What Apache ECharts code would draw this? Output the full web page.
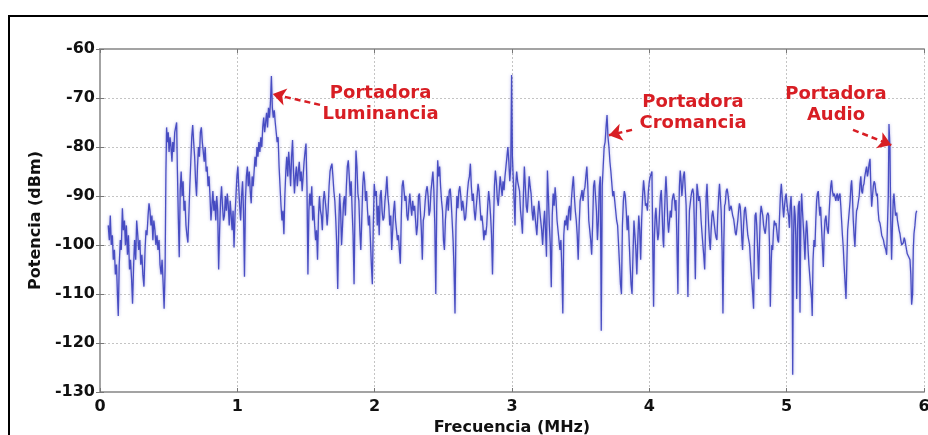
<!DOCTYPE html>
<html><head><meta charset="utf-8">
<script src="https://cdn.jsdelivr.net/npm/echarts@6/dist/echarts.min.js"></script>
<style>html,body{margin:0;padding:0;background:#fff}#c{width:928px;height:435px}</style>
</head><body><div id="c"></div>
<script>
// Spectrum readings [frequency MHz, power dBm], split by band
const band0 = [[0.060,-96],[0.068,-99],[0.075,-94],[0.082,-100],[0.090,-98],[0.097,-103],[0.105,-101],[0.112,-106],[0.120,-104],[0.127,-110],[0.133,-114.5],[0.140,-104],[0.148,-99],[0.155,-101],[0.163,-92.5],[0.170,-97],[0.178,-95],[0.185,-100],[0.192,-96],[0.200,-102],[0.207,-98],[0.215,-105],[0.222,-103],[0.230,-107],[0.237,-112],[0.245,-104],[0.252,-99],[0.260,-103],[0.267,-95],[0.275,-98],[0.282,-101],[0.290,-99],[0.297,-104],[0.305,-102],[0.312,-106],[0.320,-108.5],[0.328,-101],[0.335,-97],[0.342,-98],[0.350,-94],[0.357,-91.5],[0.364,-93],[0.371,-96],[0.378,-94],[0.385,-99],[0.392,-95],[0.400,-97],[0.407,-100],[0.415,-98],[0.422,-101],[0.430,-99],[0.437,-104],[0.445,-106],[0.452,-103],[0.460,-108],[0.467,-113],[0.474,-105],[0.480,-85],[0.485,-76],
[0.490,-79],[0.497,-77],[0.503,-81],[0.510,-78],[0.517,-80],[0.524,-83],[0.530,-79],[0.537,-81],[0.544,-77],[0.551,-76],[0.558,-75],[0.563,-84],[0.570,-94],[0.577,-102.5],[0.584,-89],[0.591,-85],[0.598,-90],[0.605,-87],[0.612,-93],[0.619,-91],[0.626,-96],[0.633,-98],[0.640,-99.5],[0.647,-94],[0.654,-88],[0.661,-83],[0.668,-78],[0.675,-75.5],[0.682,-79],[0.689,-82],[0.696,-87],[0.703,-90],[0.710,-84],[0.717,-80],[0.724,-82],[0.731,-77],[0.738,-76],[0.745,-79],[0.752,-81],[0.759,-83],[0.766,-80],[0.773,-85],[0.780,-84],[0.787,-88],[0.794,-86],[0.801,-90],[0.808,-95],[0.815,-92],[0.822,-89],[0.829,-93],[0.836,-91],[0.843,-95],[0.850,-90],[0.857,-93],[0.864,-105],[0.871,-97],[0.878,-91],[0.885,-88],[0.892,-92],[0.899,-95],[0.906,-94],[0.913,-90],[0.920,-93],[0.927,-89.5],[0.934,-92],[0.941,-96],[0.948,-91],[0.955,-94],[0.962,-97],[0.969,-93],[0.976,-100.5],[0.983,-94],[0.990,-90],[0.997,-86],[1.004,-84]];
const band1 = [[1.010,-88],[1.017,-92],[1.024,-95],[1.031,-90],[1.038,-87],[1.045,-93],[1.052,-106.5],[1.059,-91],[1.066,-86],[1.073,-84],[1.080,-88],[1.087,-85],[1.094,-89],[1.101,-91.5],[1.108,-86],[1.115,-88],[1.122,-85],[1.129,-82],[1.136,-84],[1.143,-80],[1.150,-82],[1.157,-79],[1.164,-81],[1.171,-78],[1.178,-80],[1.185,-76],[1.192,-74],[1.199,-77],[1.206,-75],[1.213,-73],[1.220,-76],[1.227,-72],[1.234,-74],[1.241,-71],[1.248,-65.5],[1.255,-72],[1.262,-74],[1.269,-72.5],[1.276,-75],[1.283,-77],[1.290,-79],[1.297,-78],[1.304,-84],[1.311,-88],[1.318,-92],[1.325,-95],[1.332,-93],[1.339,-97.8],[1.346,-90],[1.353,-85],[1.360,-82],[1.367,-86],[1.374,-81],[1.381,-84],[1.388,-88],[1.395,-82],[1.402,-78.6],[1.409,-85],[1.416,-89.5],[1.423,-86],[1.430,-84],[1.437,-88],[1.444,-85],[1.451,-83],[1.458,-87],[1.465,-85],[1.472,-89],[1.479,-86],[1.486,-83],[1.493,-81],[1.500,-79.3],[1.507,-88],[1.514,-106],[1.521,-93],[1.528,-89.5],[1.535,-92],[1.542,-88],[1.549,-95],[1.556,-92],[1.563,-96],[1.570,-99],[1.577,-97],[1.584,-103],[1.591,-94],[1.598,-90],[1.605,-93],[1.612,-94],[1.619,-97],[1.626,-91],[1.633,-89],[1.640,-91],[1.647,-93],[1.654,-96],[1.661,-93],[1.668,-88],[1.675,-85],[1.682,-84],[1.689,-83.4],[1.696,-86],[1.703,-89],[1.710,-91],[1.717,-95],[1.724,-100],[1.731,-109],[1.738,-97],[1.745,-89.5],[1.752,-93],[1.759,-100],[1.766,-96],[1.773,-91.5],[1.780,-90],[1.787,-94],[1.794,-88],[1.801,-84],[1.808,-82.7],[1.815,-86],[1.822,-90],[1.829,-87],[1.836,-93],[1.843,-98],[1.850,-108],[1.857,-92],[1.864,-80.7],[1.871,-84],[1.878,-89.5],[1.885,-91],[1.892,-97],[1.899,-101],[1.906,-95],[1.913,-88],[1.920,-85],[1.927,-87],[1.934,-91],[1.941,-89],[1.948,-93],[1.955,-96],[1.962,-94],[1.969,-99],[1.976,-104],[1.983,-108],[1.990,-96],[1.997,-87.5],[2.004,-90]];
const band2 = [[2.012,-89],[2.019,-96],[2.026,-92],[2.033,-98],[2.040,-90],[2.047,-88.8],[2.054,-93],[2.061,-95],[2.068,-94.4],[2.075,-91],[2.082,-89],[2.089,-86],[2.096,-90],[2.103,-92],[2.110,-96],[2.117,-94],[2.124,-101],[2.131,-97],[2.138,-93],[2.145,-91],[2.152,-95],[2.159,-97],[2.166,-99],[2.173,-98],[2.180,-101],[2.187,-103.8],[2.194,-94],[2.200,-88],[2.207,-86.8],[2.214,-89],[2.221,-91],[2.228,-90],[2.235,-94],[2.242,-95],[2.249,-92],[2.256,-89.5],[2.263,-92],[2.270,-94],[2.277,-91],[2.284,-93],[2.291,-92],[2.298,-95],[2.305,-98],[2.312,-96],[2.319,-90],[2.326,-89.5],[2.333,-93],[2.340,-97],[2.347,-103],[2.354,-95],[2.361,-94],[2.368,-91],[2.375,-89],[2.382,-88],[2.389,-90],[2.396,-94],[2.403,-93],[2.410,-89],[2.417,-87],[2.424,-85],[2.431,-88.8],[2.438,-96],[2.445,-110],[2.452,-92],[2.459,-82.7],[2.466,-86],[2.473,-84],[2.480,-88],[2.487,-91],[2.494,-93],[2.501,-99],[2.508,-101],[2.515,-95],[2.522,-92],[2.529,-90],[2.536,-93],[2.543,-89],[2.550,-88.5],[2.557,-91],[2.564,-95],[2.571,-99],[2.578,-105],[2.585,-114],[2.592,-96],[2.599,-90],[2.606,-92.5],[2.613,-89],[2.620,-88],[2.627,-90],[2.634,-93],[2.641,-91],[2.648,-92.5],[2.655,-95],[2.662,-94.5],[2.669,-92],[2.676,-89],[2.683,-87],[2.690,-86],[2.697,-83.4],[2.704,-88],[2.711,-91],[2.718,-89.5],[2.725,-93],[2.732,-95],[2.739,-92.5],[2.746,-90],[2.753,-87.5],[2.760,-89],[2.767,-92],[2.774,-95],[2.781,-94],[2.788,-96],[2.795,-99],[2.802,-97],[2.809,-98],[2.816,-96],[2.823,-92],[2.830,-89],[2.837,-91],[2.844,-94],[2.851,-98],[2.858,-106],[2.865,-96],[2.872,-88],[2.879,-84.8],[2.886,-87],[2.893,-90.5],[2.900,-92],[2.907,-89],[2.914,-86],[2.921,-88],[2.928,-90],[2.935,-87],[2.942,-88.8],[2.949,-86],[2.956,-84],[2.963,-82],[2.970,-80],[2.977,-83],[2.984,-87],[2.991,-84],[2.997,-65.3],[3.003,-82],[3.010,-87]];
const band3 = [[3.017,-92],[3.022,-96],[3.027,-88],[3.034,-85],[3.041,-87],[3.048,-86.6],[3.055,-89],[3.062,-93],[3.069,-95],[3.076,-97.7],[3.083,-90],[3.090,-84],[3.097,-88],[3.104,-92],[3.111,-93.4],[3.118,-90],[3.125,-86],[3.132,-88],[3.139,-89.5],[3.146,-93],[3.153,-95],[3.160,-92],[3.167,-94],[3.174,-96],[3.181,-98],[3.188,-94],[3.195,-91],[3.202,-93],[3.209,-95],[3.216,-97],[3.223,-100],[3.230,-96],[3.237,-93],[3.244,-97],[3.251,-102.4],[3.258,-84.8],[3.265,-90],[3.272,-96],[3.279,-100],[3.286,-108.6],[3.293,-94],[3.300,-89.5],[3.307,-92],[3.314,-88.2],[3.321,-91],[3.328,-95],[3.335,-97],[3.342,-99],[3.349,-101],[3.356,-99],[3.363,-105],[3.370,-114],[3.377,-98],[3.384,-95],[3.391,-96],[3.398,-94],[3.405,-97],[3.412,-93],[3.419,-92],[3.426,-95],[3.433,-90.5],[3.440,-88],[3.447,-86],[3.454,-90],[3.461,-93],[3.468,-95],[3.475,-98],[3.482,-103],[3.489,-96],[3.496,-91],[3.503,-90],[3.510,-88.8],[3.517,-91],[3.524,-89],[3.531,-88.2],[3.538,-86],[3.545,-84],[3.552,-88],[3.559,-95],[3.566,-97],[3.573,-99],[3.580,-102],[3.587,-96],[3.594,-88],[3.601,-86.8],[3.608,-90],[3.615,-93],[3.622,-99],[3.629,-95],[3.636,-88],[3.643,-86],[3.650,-117.5],[3.657,-88],[3.664,-84],[3.671,-80],[3.678,-79],[3.685,-76],[3.692,-73.5],[3.699,-78],[3.706,-80],[3.713,-83],[3.720,-85],[3.727,-87.5],[3.734,-90],[3.741,-89],[3.748,-91],[3.755,-93],[3.762,-95],[3.769,-96],[3.776,-100],[3.783,-104],[3.790,-108],[3.797,-110],[3.804,-96],[3.811,-91],[3.818,-89],[3.825,-90],[3.832,-93],[3.839,-97],[3.846,-94],[3.853,-99],[3.860,-104],[3.867,-108],[3.874,-110],[3.881,-102],[3.888,-95],[3.895,-98],[3.902,-101],[3.909,-106],[3.916,-99],[3.923,-94],[3.930,-97],[3.937,-103],[3.944,-95],[3.951,-90],[3.958,-86.8],[3.965,-89],[3.972,-92],[3.979,-91.5],[3.986,-93],[3.993,-89],[4.000,-87],[4.007,-86]];
const band4 = [[4.019,-85],[4.025,-100],[4.031,-112.6],[4.037,-98],[4.043,-94],[4.048,-92.4],[4.055,-96],[4.062,-99],[4.068,-97.7],[4.075,-93],[4.081,-90],[4.087,-88.8],[4.094,-94],[4.100,-99],[4.104,-100.5],[4.110,-94],[4.116,-89],[4.121,-86],[4.128,-90],[4.134,-95],[4.140,-97.5],[4.147,-95],[4.153,-93],[4.160,-94.4],[4.166,-91],[4.172,-90],[4.177,-89.5],[4.184,-91],[4.190,-93],[4.194,-90.8],[4.200,-98],[4.204,-104],[4.208,-110],[4.213,-96],[4.219,-88],[4.225,-84.8],[4.231,-87],[4.237,-90],[4.242,-88.2],[4.248,-86],[4.255,-85],[4.262,-84.8],[4.268,-92],[4.274,-101],[4.281,-110.6],[4.287,-99],[4.292,-93],[4.298,-91.5],[4.304,-90],[4.310,-89],[4.316,-88.5],[4.322,-89.5],[4.328,-96],[4.335,-107],[4.341,-95],[4.347,-87.5],[4.353,-89],[4.359,-91],[4.365,-90],[4.371,-91.5],[4.377,-95],[4.383,-97.4],[4.390,-100],[4.396,-102],[4.403,-105],[4.409,-97],[4.414,-90],[4.420,-87.5],[4.426,-92],[4.432,-96],[4.438,-99],[4.444,-101],[4.450,-97],[4.456,-94],[4.462,-93],[4.468,-94.4],[4.474,-96],[4.480,-97.5],[4.486,-98.5],[4.492,-99],[4.498,-94],[4.505,-90],[4.511,-87.5],[4.517,-87.5],[4.523,-93],[4.530,-101],[4.536,-114],[4.542,-100],[4.548,-92],[4.553,-91.5],[4.560,-89],[4.566,-88.5],[4.572,-89.5],[4.578,-91],[4.583,-93],[4.589,-93.4],[4.595,-92],[4.601,-93],[4.607,-94],[4.614,-94.7],[4.620,-96],[4.626,-97.5],[4.632,-98],[4.638,-97.7],[4.644,-95],[4.650,-93],[4.656,-91.5],[4.662,-92.2],[4.668,-95],[4.674,-99],[4.679,-101],[4.686,-96],[4.692,-93],[4.699,-92.2],[4.705,-94],[4.711,-96],[4.717,-98],[4.723,-97.7],[4.730,-100],[4.736,-103],[4.742,-105.5],[4.748,-108],[4.753,-110],[4.759,-113],[4.765,-100],[4.770,-94],[4.776,-93.4],[4.782,-96],[4.789,-101],[4.796,-107],[4.802,-100],[4.808,-94],[4.814,-92],[4.820,-92.2],[4.826,-94],[4.832,-96],[4.838,-97],[4.844,-97.7],[4.850,-96],[4.856,-94],[4.863,-93.4],[4.869,-94],[4.875,-100],[4.881,-112.6],[4.887,-104],[4.892,-100],[4.898,-101],[4.904,-97],[4.910,-95],[4.916,-96],[4.922,-95.5],[4.928,-97],[4.935,-99],[4.941,-99.5],[4.947,-95],[4.954,-90],[4.961,-87.5],[4.967,-90],[4.972,-92.2],[4.978,-94.4],[4.984,-92],[4.990,-90.5],[4.996,-89.5],[5.002,-91.5],[5.008,-93],[5.014,-94],[5.020,-96.5],[5.026,-92],[5.032,-90],[5.038,-95]];
const band5 = [[5.044,-126.5],[5.050,-98],[5.056,-92],[5.062,-94],[5.068,-100],[5.073,-111],[5.079,-97],[5.085,-92],[5.092,-91],[5.097,-113.8],[5.103,-95],[5.109,-89.5],[5.115,-93],[5.121,-96],[5.127,-99],[5.133,-103],[5.139,-98],[5.145,-95],[5.150,-97],[5.156,-101],[5.162,-104],[5.170,-107],[5.176,-109],[5.182,-111],[5.186,-114.5],[5.192,-103],[5.199,-99],[5.206,-100.4],[5.212,-95],[5.218,-91],[5.224,-89.5],[5.230,-89],[5.236,-92],[5.242,-94],[5.247,-92.2],[5.253,-96],[5.260,-100],[5.267,-104.5],[5.273,-98],[5.279,-95],[5.286,-94],[5.292,-96],[5.297,-97],[5.303,-97.7],[5.310,-93],[5.316,-90],[5.321,-88],[5.327,-86.8],[5.333,-89],[5.340,-90],[5.346,-89.5],[5.352,-90.2],[5.358,-91],[5.363,-90],[5.369,-89.5],[5.375,-91],[5.382,-90],[5.388,-89.5],[5.394,-92],[5.400,-95],[5.406,-98],[5.412,-100.4],[5.418,-104],[5.424,-107],[5.432,-111],[5.438,-104],[5.444,-97],[5.450,-95],[5.456,-95],[5.462,-91],[5.468,-88],[5.473,-86.8],[5.479,-90],[5.485,-95],[5.491,-98],[5.497,-100.4],[5.503,-96],[5.509,-93],[5.515,-92.5],[5.522,-92.2],[5.528,-90],[5.534,-87.5],[5.540,-86],[5.546,-89],[5.552,-89.5],[5.557,-88],[5.563,-87.5],[5.569,-86],[5.575,-85],[5.582,-84],[5.588,-86],[5.594,-85],[5.600,-83.5],[5.607,-82.4],[5.613,-88],[5.619,-92.2],[5.625,-90],[5.631,-88],[5.637,-87],[5.643,-87.5],[5.649,-89],[5.655,-90],[5.660,-89.5],[5.666,-93],[5.672,-95],[5.679,-95.5],[5.685,-96.5],[5.692,-98],[5.699,-97.7],[5.705,-99],[5.711,-100],[5.716,-100.4],[5.722,-101],[5.728,-102],[5.733,-102.4],[5.740,-90],[5.745,-75.3],[5.752,-80],[5.758,-95],[5.764,-103],[5.770,-96],[5.776,-91],[5.781,-89.5],[5.787,-92],[5.793,-94],[5.801,-93.4],[5.807,-95],[5.813,-96],[5.819,-97],[5.825,-97.7],[5.831,-99],[5.838,-100],[5.844,-100.4],[5.850,-99.5],[5.856,-98.5],[5.861,-99],[5.867,-100],[5.873,-101],[5.878,-101.8],[5.884,-102],[5.890,-102.5],[5.898,-103],[5.904,-106],[5.910,-112.2],[5.917,-110],[5.922,-101],[5.927,-97.7],[5.934,-96],[5.941,-93.6],[5.947,-93]];

// Annotation texts (centre in data coords) and arrows (from, to in data coords)
const labelTexts = ['Portadora\nLuminancia', 'Portadora\nCromancia', 'Portadora\nAudio'];
const labelAt = [[2.043, -71.2], [4.318, -73.0], [5.359, -71.3]];
const arrowFrom = [[1.602, -71.4], [3.874, -76.5], [5.483, -76.5]];
const arrowTo = [[1.258, -69.2], [3.706, -77.6], [5.762, -79.6]];

const spectrum = band0.concat(band1, band2, band3, band4, band5);
const RED = '#d81e24';
const FONT = 'DejaVu Sans';

const chart = echarts.init(document.getElementById('c'), null, {renderer: 'canvas'});
const axisGrey = '#a3a3a3';
const option = {
  animation: false,
  backgroundColor: '#ffffff',
  graphic: [{
    type: 'rect', z: 100, silent: true,
    shape: {x: 9, y: 16, width: 940, height: 440},
    style: {fill: 'none', stroke: '#000', lineWidth: 2}
  }],
  grid: {left: 100, top: 49, width: 824, height: 343, containLabel: false, outerBoundsMode: 'none',
         show: false},
  xAxis: [{
    type: 'value', min: 0, max: 6, interval: 1,
    name: 'Frecuencia (MHz)', nameLocation: 'middle', nameGap: 24,
    nameTextStyle: {fontFamily: FONT, fontWeight: 'bold', fontSize: 16, color: '#111'},
    axisLine: {show: true, lineStyle: {color: axisGrey, width: 2}},
    axisTick: {show: true, inside: true, length: 4, lineStyle: {color: '#777'}},
    axisLabel: {fontFamily: FONT, fontWeight: 'bold', fontSize: 16, color: '#111', margin: 7},
    splitLine: {show: true, lineStyle: {color: '#c4c4c4', type: [2, 2], width: 1}}
  }, {
    type: 'value', min: 0, max: 6, interval: 1, position: 'top',
    axisLine: {show: true, lineStyle: {color: axisGrey, width: 2}},
    axisTick: {show: true, inside: true, length: 4, lineStyle: {color: '#777'}},
    axisLabel: {show: false}, splitLine: {show: false}
  }],
  yAxis: [{
    type: 'value', min: -130, max: -60, interval: 10,
    name: 'Potencia (dBm)', nameLocation: 'middle', nameGap: 49, nameRotate: 90,
    nameTextStyle: {fontFamily: FONT, fontWeight: 'bold', fontSize: 16, color: '#111'},
    axisLine: {show: true, lineStyle: {color: axisGrey, width: 2}},
    axisTick: {show: true, inside: true, length: 4, lineStyle: {color: '#777'}},
    axisLabel: {fontFamily: FONT, fontWeight: 'bold', fontSize: 16, color: '#111', margin: 5},
    splitLine: {show: true, lineStyle: {color: '#c4c4c4', type: [2, 2], width: 1}}
  }, {
    type: 'value', min: -130, max: -60, interval: 10, position: 'right',
    axisLine: {show: true, lineStyle: {color: axisGrey, width: 2}},
    axisTick: {show: true, inside: true, length: 4, lineStyle: {color: '#777'}},
    axisLabel: {show: false}, splitLine: {show: false}
  }],
  series: [{
    type: 'line', xAxisIndex: 0, yAxisIndex: 0,
    data: spectrum, showSymbol: false, symbol: 'none', sampling: null,
    lineStyle: {color: '#3a3fbd', width: 1.3, opacity: 0.9,
                shadowBlur: 3, shadowColor: 'rgba(90,90,210,0.6)'},
    z: 3,
    markLine: {
      silent: true, animation: false,
      symbol: ['none', 'arrow'], symbolSize: 13,
      label: {show: false},
      itemStyle: {color: RED},
      lineStyle: {color: RED, type: [6, 4], width: 2.5, shadowBlur: 0},
      data: arrowFrom.map((a, i) => [
        {coord: a, symbol: 'none'},
        {coord: arrowTo[i], symbol: 'arrow', symbolSize: 13}
      ])
    },
    markPoint: {
      silent: true, animation: false,
      symbol: 'circle', symbolSize: 1,
      itemStyle: {color: 'rgba(0,0,0,0)'},
      label: {show: true, position: 'inside', formatter: p => p.name,
              fontFamily: FONT, fontWeight: 'bold', fontSize: 18, lineHeight: 21, color: RED, align: 'center'},
      data: labelAt.map((c, i) => ({name: labelTexts[i], coord: c}))
    }
  }]
};
chart.setOption(option);
</script>
</body></html>
